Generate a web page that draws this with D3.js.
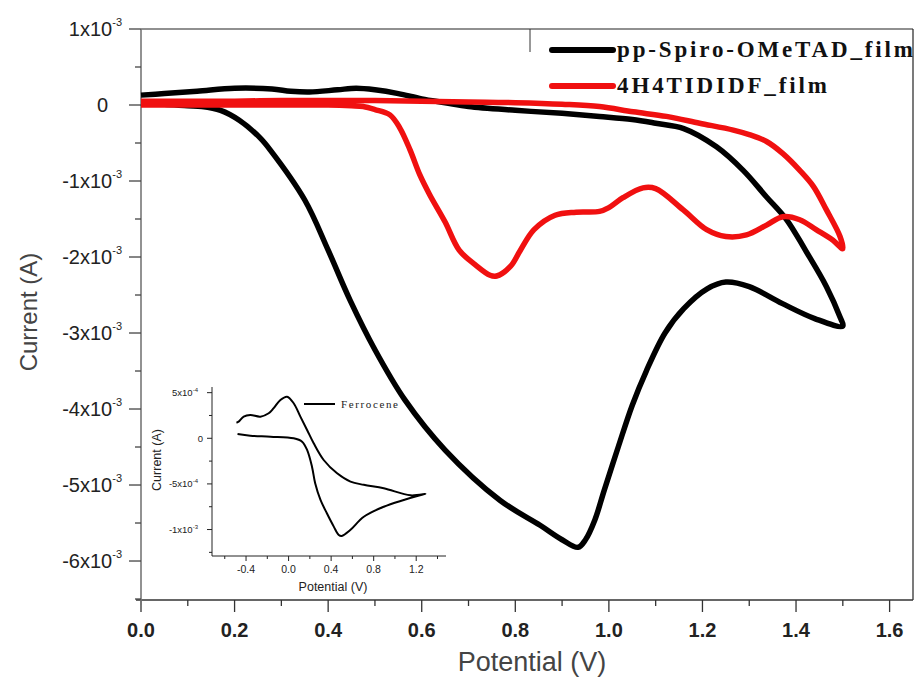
<!DOCTYPE html>
<html>
<head>
<meta charset="utf-8">
<script src="https://cdn.jsdelivr.net/npm/d3@7/dist/d3.min.js"></script>
<style>
  html, body { margin: 0; padding: 0; background: #fff; }
  svg { display: block; }
</style>
</head>
<body>
<svg id="chart" width="918" height="680"></svg>
<script>
// Cyclic voltammograms of two films (current in mA, potential in V),
// traced as closed loops: forward sweep then return sweep.
const spiroPotential = [0.00, 0.05, 0.10, 0.13, 0.17, 0.21, 0.254, 0.276, 0.35, 0.40, 0.447, 0.50, 0.564, 0.65, 0.767, 0.853, 0.90, 0.934, 0.95, 0.97, 0.99, 1.02, 1.05, 1.08, 1.12, 1.16, 1.21, 1.25, 1.30, 1.37, 1.44, 1.50,
  1.494, 1.465, 1.42, 1.38, 1.337, 1.287, 1.23, 1.16, 1.10, 1.05, 0.98, 0.90, 0.80, 0.70, 0.65, 0.60, 0.55, 0.50, 0.46, 0.42, 0.36, 0.32, 0.28, 0.20, 0.12, 0.05, 0.00];
const spiroCurrent = [0.02, 0.01, -0.01, -0.02, -0.07, -0.20, -0.43, -0.59, -1.25, -1.91, -2.57, -3.22, -3.88, -4.54, -5.20, -5.53, -5.72, -5.82, -5.72, -5.46, -5.07, -4.50, -3.95, -3.50, -3.00, -2.68, -2.42, -2.33, -2.39, -2.61, -2.81, -2.91,
  -2.79, -2.39, -1.91, -1.51, -1.21, -0.86, -0.55, -0.31, -0.24, -0.19, -0.15, -0.11, -0.07, -0.02, 0.03, 0.08, 0.15, 0.20, 0.22, 0.20, 0.17, 0.18, 0.21, 0.22, 0.18, 0.15, 0.13];

const tididfPotential = [0.00, 0.10, 0.20, 0.30, 0.40, 0.45, 0.475, 0.50, 0.532, 0.553, 0.575, 0.596, 0.617, 0.65, 0.68, 0.714, 0.746, 0.76, 0.79, 0.81, 0.84, 0.885, 0.93, 0.98, 1.00, 1.03, 1.073, 1.10, 1.159, 1.209, 1.25, 1.294, 1.337, 1.372, 1.408, 1.443, 1.479, 1.50,
  1.494, 1.465, 1.437, 1.408, 1.372, 1.337, 1.30, 1.266, 1.194, 1.123, 1.052, 0.98, 0.90, 0.80, 0.70, 0.60, 0.50, 0.40, 0.30, 0.20, 0.10, 0.00];
const tididfCurrent = [0.00, 0.00, 0.00, 0.00, 0.00, -0.01, -0.02, -0.06, -0.13, -0.30, -0.59, -0.92, -1.18, -1.54, -1.91, -2.10, -2.24, -2.25, -2.12, -1.92, -1.64, -1.45, -1.41, -1.40, -1.35, -1.22, -1.09, -1.10, -1.38, -1.64, -1.73, -1.71, -1.58, -1.47, -1.51, -1.64, -1.78, -1.89,
  -1.73, -1.38, -1.07, -0.86, -0.64, -0.48, -0.39, -0.33, -0.24, -0.15, -0.09, -0.02, 0.01, 0.03, 0.04, 0.05, 0.06, 0.06, 0.06, 0.05, 0.05, 0.05];

// Ferrocene reference (inset), current in units of 1e-4 A
const ferrocenePotential = [-0.48, -0.36, -0.17, 0.048, 0.127, 0.174, 0.22, 0.25, 0.30, 0.36, 0.425, 0.472, 0.50, 0.58, 0.707, 0.895, 1.083, 1.21, 1.287,
  1.146, 0.895, 0.707, 0.582, 0.456, 0.33, 0.236, 0.174, 0.111, 0.048, -0.014, -0.077, -0.14, -0.187, -0.265, -0.36, -0.422, -0.47, -0.49];
const ferroceneCurrent = [0.47, 0.29, 0.18, 0.00, -0.37, -1.28, -3.11, -4.93, -6.76, -8.22, -9.68, -10.6, -10.7, -10.05, -8.6, -7.5, -6.76, -6.32, -6.1,
  -6.25, -5.48, -5.1, -4.75, -3.84, -2.38, -0.55, 0.91, 2.37, 3.84, 4.56, 4.2, 3.3, 2.74, 2.37, 2.55, 2.37, 1.82, 1.71];

const seriesNames = ["pp-Spiro-OMeTAD_film", "4H4TIDIDF_film"];
const seriesColors = ["#000000", "#f01010"];
const xTickValues = [0.0, 0.2, 0.4, 0.6, 0.8, 1.0, 1.2, 1.4, 1.6];
const yTickValues = [1, 0, -1, -2, -3, -4, -5, -6];
const insetXTickValues = [-0.4, 0.0, 0.4, 0.8, 1.2];
const insetYTicks = [5, 0, -5, -10];
const insetYTickLabels = [["5x10", "-4"], ["0", ""], ["-5x10", "-4"], ["-1x10", "-3"]];

const svg = d3.select("#chart");
const L = 141, R = 913, T = 29, B = 600;

const x = d3.scaleLinear().domain([0, 1.65]).range([L, R]);
const y = d3.scaleLinear().domain([-6.513, 1]).range([B, T]);

// frame (top and right)
svg.append("line").attr("x1", L).attr("x2", R).attr("y1", T).attr("y2", T).attr("stroke", "#222").attr("stroke-width", 1.2);
svg.append("line").attr("x1", R).attr("x2", R).attr("y1", T).attr("y2", B).attr("stroke", "#222").attr("stroke-width", 1.2);

// bottom axis
const xAxis = svg.append("g").attr("transform", `translate(0,${B})`);
xAxis.append("line").attr("x1", L - 5).attr("x2", R).attr("stroke", "#333").attr("stroke-width", 1.3);
const xMinor = d3.range(0, 1.651, 0.1);
xAxis.selectAll("line.tk").data(xMinor).join("line").attr("class", "tk")
  .attr("x1", d => x(d)).attr("x2", d => x(d)).attr("y1", 0)
  .attr("y2", (d, i) => i % 2 === 0 ? 12 : 6)
  .attr("stroke", "#333").attr("stroke-width", 1.3);
xAxis.selectAll("text").data(xTickValues).join("text")
  .attr("x", d => x(d)).attr("y", 37)
  .attr("text-anchor", "middle")
  .attr("font-family", "'Liberation Sans Narrow', 'Arial Narrow', 'Liberation Sans', Arial, sans-serif")
  .attr("font-weight", "bold").attr("font-size", 20).attr("fill", "#222")
  .text(d => d.toFixed(1));

// left axis
const yAxis = svg.append("g").attr("transform", `translate(${L},0)`);
yAxis.append("line").attr("y1", T).attr("y2", B + 5).attr("stroke", "#777").attr("stroke-width", 1.6);
const yMinor = d3.range(-6.5, 1.01, 0.5);
yAxis.selectAll("line.tk").data(yMinor).join("line").attr("class", "tk")
  .attr("y1", d => y(d)).attr("y2", d => y(d)).attr("x1", 0)
  .attr("x2", d => Number.isInteger(d) ? -12 : -6)
  .attr("stroke", "#444").attr("stroke-width", 1.3);
const yLab = yAxis.selectAll("text").data(yTickValues).join("text")
  .attr("x", d => d === 0 ? -33 : -19).attr("y", d => y(d) + 7)
  .attr("text-anchor", "end")
  .attr("font-family", "'Liberation Sans', Arial, sans-serif")
  .attr("font-size", 20).attr("fill", "#222");
yLab.each(function (d) {
  const t = d3.select(this);
  if (d === 0) { t.text("0"); return; }
  t.append("tspan").text(`${d}x10`);
  t.append("tspan").attr("dy", -10).attr("font-size", 11).text("-3");
});

// axis titles
svg.append("text").attr("transform", "translate(37,312) rotate(-90)")
  .attr("text-anchor", "middle").attr("font-family", "'Liberation Sans', Arial, sans-serif")
  .attr("font-size", 24).attr("fill", "#444").text("Current (A)");
svg.append("text").attr("x", 532).attr("y", 671)
  .attr("text-anchor", "middle").attr("font-family", "'Liberation Sans', Arial, sans-serif")
  .attr("font-size", 27).attr("fill", "#444").text("Potential (V)");

// inset: ferrocene
const ix = d3.scaleLinear().domain([-0.72, 1.48]).range([212, 446]);
const iy = d3.scaleLinear().domain([-12.9, 5.62]).range([556, 387]);
const inset = svg.append("g");
inset.append("line").attr("x1", 212).attr("x2", 212).attr("y1", 387).attr("y2", 556).attr("stroke", "#222").attr("stroke-width", 1);
inset.append("line").attr("x1", 212).attr("x2", 446).attr("y1", 556).attr("y2", 556).attr("stroke", "#222").attr("stroke-width", 1);
inset.selectAll("line.ytk").data(d3.range(-12.5, 5.1, 2.5)).join("line").attr("class", "ytk")
  .attr("x1", 212).attr("x2", d => d % 5 === 0 ? 207 : 209)
  .attr("y1", d => iy(d)).attr("y2", d => iy(d)).attr("stroke", "#222");
inset.selectAll("line.xtk").data(d3.range(-0.6, 1.41, 0.2)).join("line").attr("class", "xtk")
  .attr("y1", 556).attr("y2", (d, i) => i % 2 === 1 ? 561 : 559)
  .attr("x1", d => ix(d)).attr("x2", d => ix(d)).attr("stroke", "#222");
inset.selectAll("text.xl").data(insetXTickValues).join("text").attr("class", "xl")
  .attr("x", d => ix(d)).attr("y", 573).attr("text-anchor", "middle")
  .attr("font-family", "'Liberation Sans', Arial, sans-serif").attr("font-size", 10.5).attr("fill", "#222")
  .text(d => d.toFixed(1));
inset.selectAll("text.yl").data(insetYTicks).join("text").attr("class", "yl")
  .attr("x", (d, i) => i === 1 ? 203 : 198).attr("y", d => iy(d) + 3.5).attr("text-anchor", "end")
  .attr("font-family", "'Liberation Sans', Arial, sans-serif").attr("font-size", 9.5).attr("fill", "#222")
  .each(function (d, i) {
    const t = d3.select(this);
    t.append("tspan").text(insetYTickLabels[i][0]);
    if (insetYTickLabels[i][1]) t.append("tspan").attr("dy", -4).attr("font-size", 6).text(insetYTickLabels[i][1]);
  });
inset.append("text").attr("x", 333).attr("y", 591).attr("text-anchor", "middle")
  .attr("font-family", "'Liberation Sans', Arial, sans-serif").attr("font-size", 12.5).attr("fill", "#222")
  .text("Potential (V)");
inset.append("text").attr("transform", "translate(161,460) rotate(-90)").attr("text-anchor", "middle")
  .attr("font-family", "'Liberation Sans', Arial, sans-serif").attr("font-size", 12.5).attr("fill", "#222")
  .text("Current (A)");

const ferroLine = d3.line().x((d, i) => ix(ferrocenePotential[i])).y((d, i) => iy(ferroceneCurrent[i])).curve(d3.curveCatmullRom);
inset.append("path").datum(ferroceneCurrent).attr("d", ferroLine)
  .attr("fill", "none").attr("stroke", "#000").attr("stroke-width", 2).attr("stroke-linejoin", "round");
inset.append("line").attr("x1", 304).attr("x2", 335).attr("y1", 404).attr("y2", 404).attr("stroke", "#000").attr("stroke-width", 2);
inset.append("text").attr("x", 341).attr("y", 408)
  .attr("font-family", "'Liberation Serif', 'Times New Roman', serif").attr("font-size", 11).attr("fill", "#222")
  .attr("textLength", 57).attr("lengthAdjust", "spacing").text("Ferrocene");

// main curves
function loop(px, py) {
  return d3.line().x((d, i) => x(px[i])).y((d, i) => y(py[i])).curve(d3.curveCatmullRom);
}
svg.append("path").datum(spiroCurrent).attr("d", loop(spiroPotential, spiroCurrent))
  .attr("fill", "none").attr("stroke", seriesColors[0]).attr("stroke-width", 5.5).attr("stroke-linejoin", "round");
svg.append("path").datum(tididfCurrent).attr("d", loop(tididfPotential, tididfCurrent))
  .attr("fill", "none").attr("stroke", seriesColors[1]).attr("stroke-width", 5.5).attr("stroke-linejoin", "round");

// legend
const legend = svg.append("g");
legend.append("line").attr("x1", 530).attr("x2", 530).attr("y1", T).attr("y2", 52).attr("stroke", "#333").attr("stroke-width", 1);
const legendY = [50, 86];
const legendWidths = [296, 210];
seriesNames.forEach((name, i) => {
  legend.append("line").attr("x1", 552).attr("x2", 613).attr("y1", legendY[i]).attr("y2", legendY[i])
    .attr("stroke", seriesColors[i]).attr("stroke-width", 6).attr("stroke-linecap", "round");
  legend.append("text").attr("x", 617).attr("y", legendY[i] + 7)
    .attr("font-family", "'Liberation Serif', 'Times New Roman', serif").attr("font-weight", "bold")
    .attr("font-size", 23).attr("fill", "#111")
    .attr("textLength", legendWidths[i]).attr("lengthAdjust", "spacing").text(name);
});
</script>
</body>
</html>
